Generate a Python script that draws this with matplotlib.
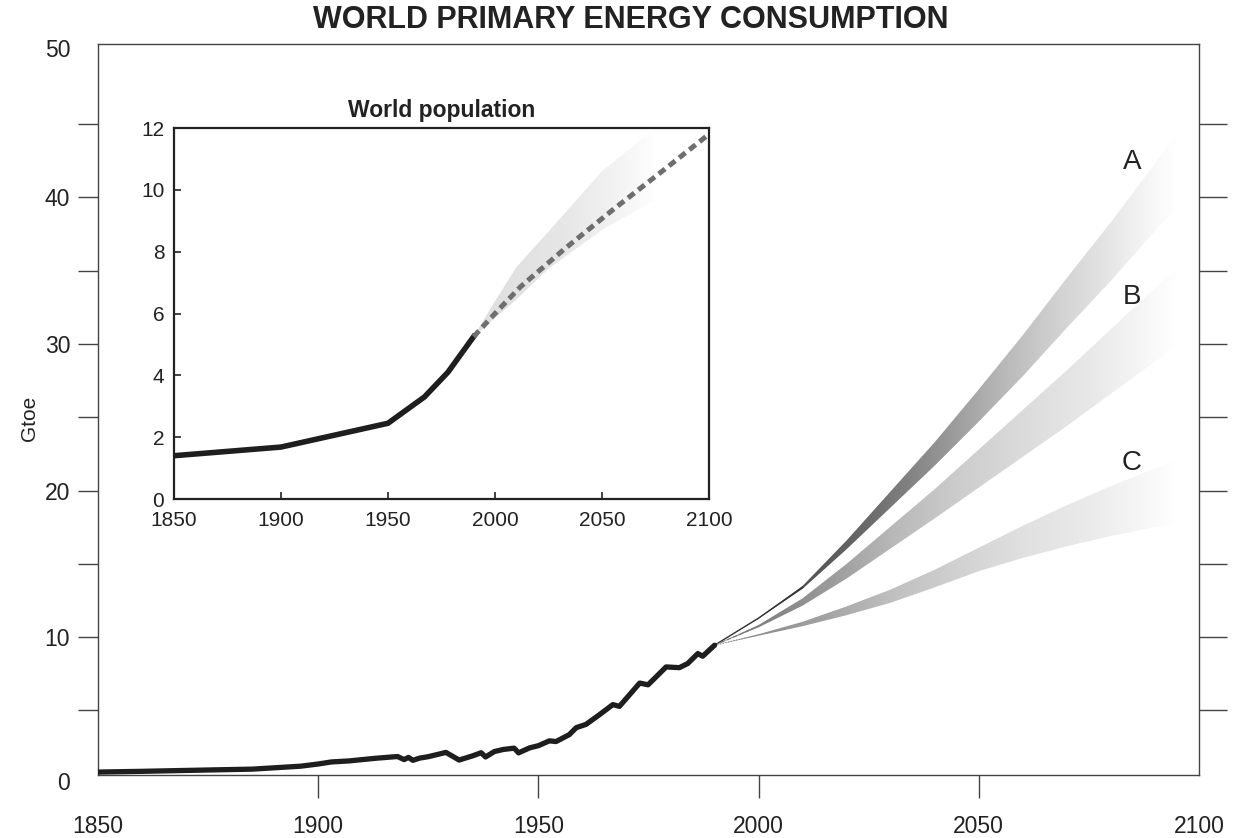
import numpy as np
import matplotlib
matplotlib.use("Agg")
import matplotlib.pyplot as plt

plt.rcParams['font.family'] = ['Liberation Sans', 'DejaVu Sans']

# ---------------- data ----------------
energy_years = [1850, 1860, 1873, 1885, 1896, 1900, 1903, 1907, 1913, 1918, 1919.5, 1920.5,
                1921.5, 1923, 1925, 1929, 1932, 1935, 1937, 1938, 1940, 1942, 1944.5, 1945.5,
                1948, 1950, 1952.5, 1954, 1957, 1958.6, 1960.8, 1963.9, 1966.9, 1968.4, 1973,
                1974.9, 1979, 1982, 1983.9, 1986.2, 1987.3, 1990]
energy_gtoe = [0.8, 0.85, 0.93, 1.0, 1.2, 1.35, 1.49, 1.56, 1.74, 1.86, 1.65, 1.8,
               1.6, 1.75, 1.85, 2.14, 1.62, 1.9, 2.12, 1.83, 2.2, 2.34, 2.43, 2.11,
               2.45, 2.6, 2.93, 2.88, 3.35, 3.83, 4.05, 4.72, 5.4, 5.28, 6.87,
               6.75, 7.97, 7.92, 8.2, 8.88, 8.7, 9.45]

fan_years = [1990, 2000, 2010, 2020, 2030, 2040, 2050, 2060, 2070, 2080, 2090, 2095]
A_upper = [9.45, 11.33, 13.5, 16.6, 19.95, 23.3, 26.9, 30.6, 34.5, 38.3, 42.3, 44.25]
A_lower = [9.45, 11.27, 13.3, 16.0, 18.85, 21.7, 24.7, 27.8, 31.1, 34.3, 37.7, 39.35]
B_upper = [9.45, 10.83, 12.65, 15.0, 17.55, 20.1, 22.8, 25.5, 28.2, 31.0, 33.8, 35.15]
B_lower = [9.45, 10.67, 12.15, 14.0, 16.05, 18.1, 20.2, 22.3, 24.4, 26.6, 28.8, 29.85]
C_upper = [9.45, 10.2, 11.05, 12.1, 13.25, 14.6, 16.1, 17.6, 19.0, 20.3, 21.5, 22.05]
C_lower = [9.45, 10.1, 10.75, 11.5, 12.35, 13.4, 14.5, 15.4, 16.2, 16.9, 17.5, 17.75]
scenario_labels = ['A', 'B', 'C']
label_pos_y = [42.4, 33.2, 21.9]

pop_years = [1850, 1900, 1950, 1960, 1967, 1978, 1990]
pop_billion = [1.4, 1.68, 2.45, 2.95, 3.3, 4.1, 5.25]
pop_proj_years = [1990, 2000, 2012, 2032, 2055, 2079, 2100]
pop_proj = [5.25, 6.0, 6.87, 8.06, 9.35, 10.65, 11.8]
pop_band_years = [1990, 2000, 2010, 2025, 2050, 2075]
pop_band_upper = [5.25, 6.4, 7.5, 8.65, 10.6, 12.0]
pop_band_lower = [5.25, 5.85, 6.45, 7.45, 8.7, 9.7]

x_ticks = [1850, 1900, 1950, 2000, 2050, 2100]
y_ticks = [5, 10, 15, 20, 25, 30, 35, 40, 45]
y_ticklabels = ['', '10', '', '20', '', '30', '', '40', '']
inset_yticks = [0, 2, 4, 6, 8, 10, 12]

# ---------------- helpers ----------------
def gradient_band(ax, xs, lo, hi, stop_x, stop_g, z):
    poly = ax.fill_between(xs, lo, hi, facecolor='none', edgecolor='none', zorder=z)
    gx = np.linspace(xs[0], xs[-1], 600)
    g = np.interp(gx, stop_x, stop_g)
    img = np.ones((2, len(gx), 4))
    img[..., 0] = g
    img[..., 1] = g
    img[..., 2] = g
    im = ax.imshow(img, extent=[xs[0], xs[-1], min(lo) - 0.01, max(hi) + 0.01],
                   aspect='auto', origin='lower', interpolation='bilinear', zorder=z)
    im.set_clip_path(poly.get_paths()[0], transform=ax.transData)
    return im

# ---------------- figure ----------------
fig = plt.figure(figsize=(12.34, 8.38), dpi=100)
ax = fig.add_axes([98/1234, 63/838, 1101/1234, 731/838])
ax.set_xlim(1850, 2100)
ax.set_ylim(0.6, 50.45)

for s in ax.spines.values():
    s.set_linewidth(1.0)
    s.set_color('#444444')

ax.set_xticks(x_ticks)
ax.set_xticklabels([str(v) for v in x_ticks])
ax.tick_params(axis='x', direction='out', length=16.5, width=1.0, color='#444444',
               pad=12, labelsize=16.5, labelcolor='#222222')
xt = ax.xaxis.get_major_ticks()
xt[0].tick1line.set_visible(False)
xt[-1].tick1line.set_visible(False)

ax.set_yticks(y_ticks)
ax.set_yticklabels(y_ticklabels)
ax.tick_params(axis='y', direction='out', length=14.5, width=1.0, color='#444444',
               pad=5.5, labelsize=16.5, labelcolor='#222222')
for lab, val in (('0', 0), ('50', 50)):
    ax.annotate(lab, xy=(0, val), xycoords=('axes fraction', 'data'),
                xytext=(-20, 0), textcoords='offset points', ha='right', va='center',
                fontsize=16.5, color='#222222', annotation_clip=False)

axr = ax.twinx()
axr.set_ylim(ax.get_ylim())
axr.set_yticks(y_ticks)
axr.set_yticklabels([])
axr.tick_params(axis='y', direction='out', length=20, width=1.0, color='#444444')
for s in axr.spines.values():
    s.set_visible(False)

# fans
gradient_band(ax, fan_years, A_lower, A_upper,
              [2005, 2015, 2025, 2035, 2045, 2055, 2065, 2075, 2085, 2090, 2095],
              [0.3, 0.35, 0.42, 0.52, 0.62, 0.72, 0.8, 0.87, 0.94, 0.975, 1.0], 3)
gradient_band(ax, fan_years, B_lower, B_upper,
              [2000, 2015, 2030, 2045, 2060, 2075, 2085, 2090, 2095],
              [0.5, 0.6, 0.72, 0.8, 0.86, 0.91, 0.955, 0.98, 1.0], 3)
gradient_band(ax, fan_years, C_lower, C_upper,
              [2000, 2015, 2030, 2045, 2060, 2075, 2085, 2090, 2095],
              [0.55, 0.64, 0.75, 0.82, 0.88, 0.92, 0.96, 0.98, 1.0], 3)

A_mid = [(u + l) / 2 for u, l in zip(A_upper, A_lower)]
B_mid = [(u + l) / 2 for u, l in zip(B_upper, B_lower)]
C_mid = [(u + l) / 2 for u, l in zip(C_upper, C_lower)]
ax.plot(fan_years[:3], A_mid[:3], color='#333333', lw=1.0, zorder=4)
ax.plot(fan_years[:2], B_mid[:2], color='#777777', lw=0.8, ls=(0, (4, 2)), zorder=4)
ax.plot(fan_years[:2], C_mid[:2], color='#888888', lw=0.8, ls=(0, (1, 1.5)), zorder=4)

ax.plot(energy_years, energy_gtoe, color='#1e1e1e', lw=3.8, solid_joinstyle='round',
        solid_capstyle='round', zorder=5)

for lab, yv in zip(scenario_labels, label_pos_y):
    ax.text(2084.8, yv, lab, fontsize=20, ha='center', va='center', color='#222222')

# ---------------- inset ----------------
ins = fig.add_axes([174/1234, 339/838, 535/1234, 371/838])
ins.set_facecolor('white')
ins.set_xlim(1850, 2100)
ins.set_ylim(0, 12)
for s in ins.spines.values():
    s.set_linewidth(1.6)
    s.set_color('#222222')
ins.set_xticks(x_ticks)
ins.set_yticks(inset_yticks)
ins.tick_params(direction='in', length=5, width=1.2, labelsize=15, color='#222222',
                labelcolor='#222222')
ins.tick_params(axis='x', pad=8.5)
ins.tick_params(axis='y', pad=7)

gradient_band(ins, pop_band_years, pop_band_lower, pop_band_upper,
              [1990, 2000, 2030, 2055, 2075], [0.88, 0.88, 0.9, 0.95, 0.998], 2)
ins.plot(pop_years, pop_billion, color='#1e1e1e', lw=4.0, solid_joinstyle='round', zorder=5)
ins.plot(pop_proj_years, pop_proj, color='#6e6e6e', lw=3.6, ls=(0, (1.6, 1.0)), zorder=5)
ins.set_xlim(1850, 2100)
ins.set_ylim(0, 12)
ins.set_title('World population', fontsize=16.5, fontweight='bold', color='#222222', pad=8)

ax.set_xlim(1850, 2100)
ax.set_ylim(0.6, 50.45)

fig.text(30/1234, 1 - 418/838, 'Gtoe', rotation=90, ha='center', va='center',
         fontsize=15, color='#222222')
fig.text(631/1234, 1 - 20/838, 'WORLD PRIMARY ENERGY CONSUMPTION', ha='center',
         va='center', fontsize=22, fontweight='bold', color='#222222')

fig.savefig('out.png', dpi=100)
